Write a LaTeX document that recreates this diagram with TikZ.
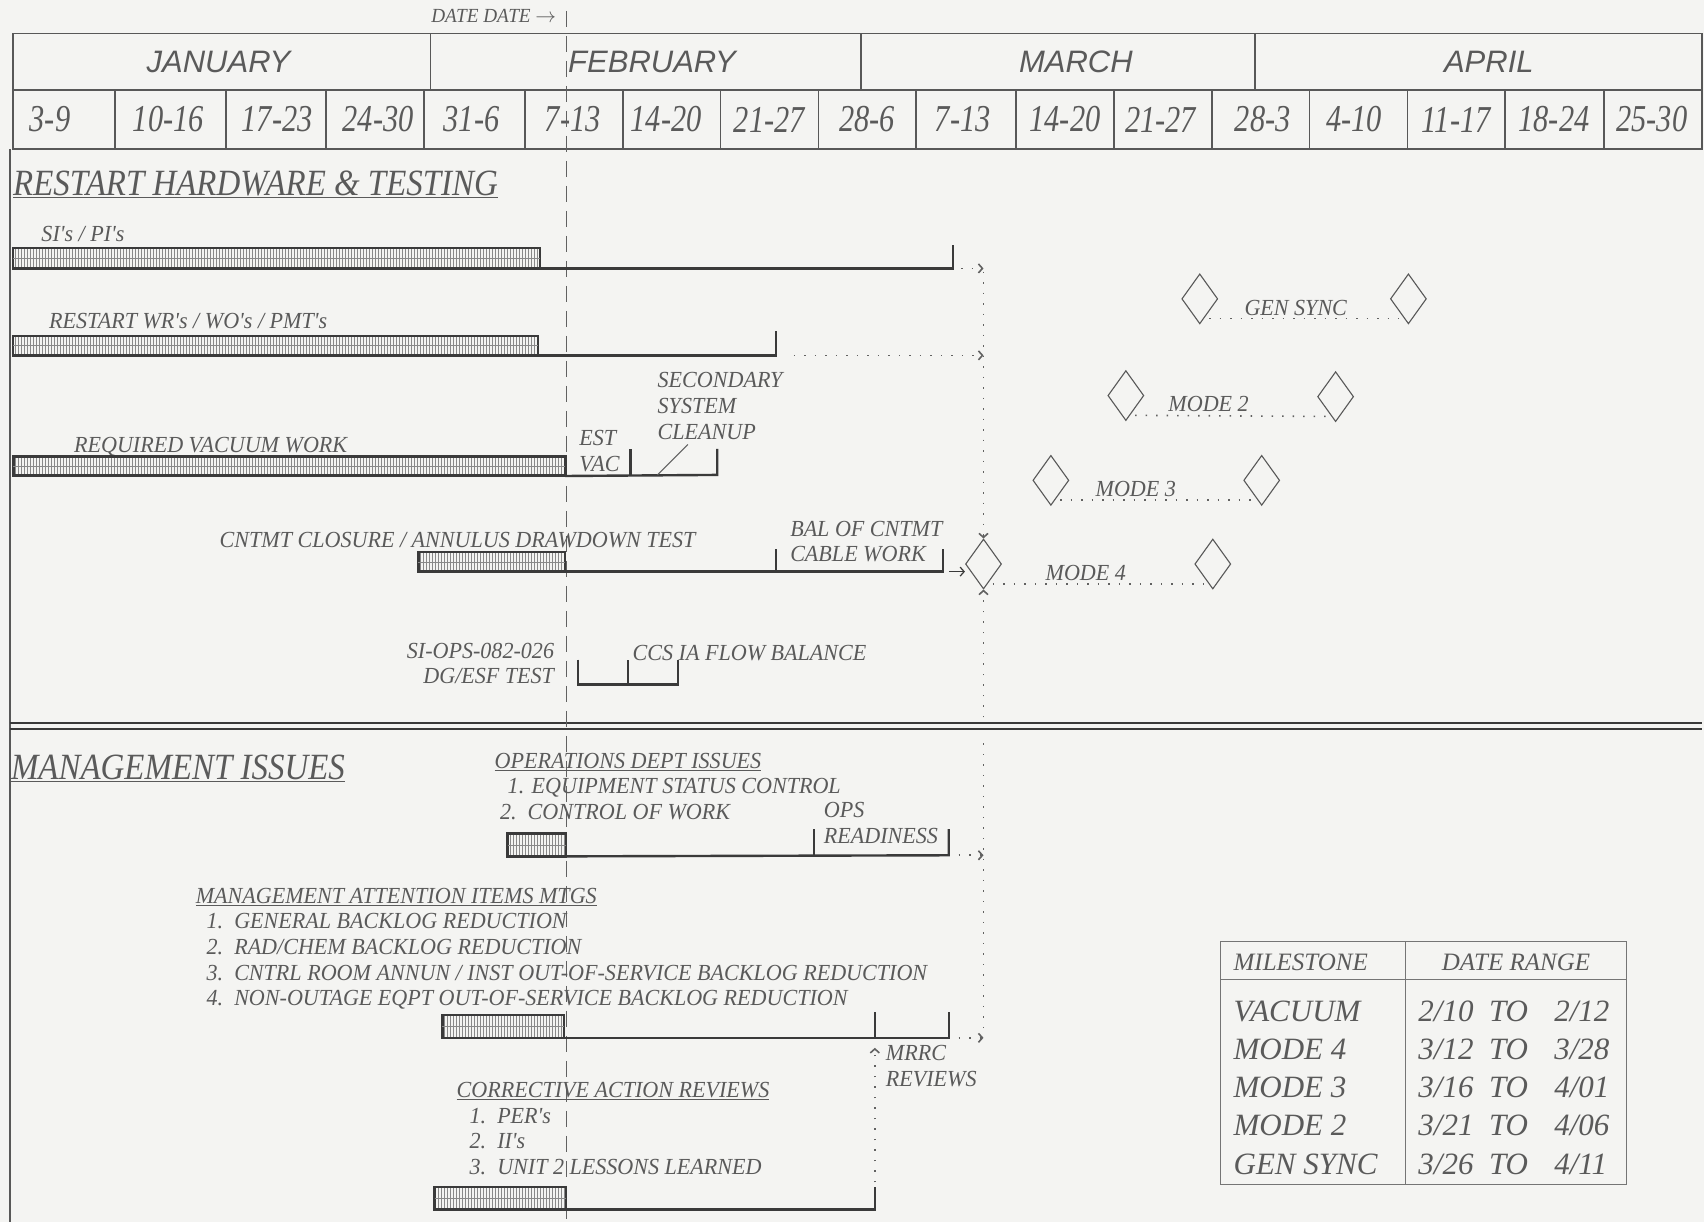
\documentclass[tikz,border=0pt]{standalone}
\usepackage{fontspec}
\setmainfont{Liberation Serif}
\newfontfamily\condit[FakeStretch=0.8]{Liberation Serif}
\newfontfamily\lblfont[FakeStretch=0.96]{Liberation Serif}
\newfontfamily\titlefont[FakeStretch=0.89]{Liberation Serif}
\newfontfamily\monthfont{Liberation Sans}
\usetikzlibrary{positioning,arrows.meta,calc,patterns,shapes.geometric}
\definecolor{paper}{HTML}{F4F4F2}
\definecolor{ink}{HTML}{3A3A3A}
\definecolor{inktxt}{HTML}{5A5A5A}

\tikzset{
  grid/.style={draw=ink!85, line width=1.6pt},
  lbl/.style={font=\lblfont\itshape\fontsize{23}{26}\selectfont, text=inktxt, inner sep=0pt, anchor=base west},
  month/.style={font=\monthfont\itshape\fontsize{31}{34}\selectfont, text=inktxt, inner sep=0pt},
  week/.style={font=\condit\itshape\fontsize{38}{40}\selectfont, text=inktxt, inner sep=0pt},
  title/.style={font=\titlefont\itshape\fontsize{37}{40}\selectfont, text=inktxt, inner sep=0pt, anchor=base west},
  bar/.style={draw=ink, line width=2.4pt, pattern=vertical lines, pattern color=ink!60},
  base/.style={draw=ink, line width=2.4pt},
  dots/.style={draw=ink!80, line width=1.6pt, dash pattern=on 1.5pt off 9pt},
  tip/.style={-{Straight Barb[length=4pt,width=9pt]}},
  mstone/.style={diamond, draw=ink!85, line width=1.1pt, minimum width=36pt, minimum height=50pt, inner sep=0pt},
  mlbl/.style={font=\lblfont\itshape\fontsize{23}{25}\selectfont, text=inktxt, inner sep=0pt, anchor=base west},
  tbl/.style={font=\itshape\fontsize{31}{34}\selectfont, text=inktxt, inner sep=0pt, anchor=base west}
}

\begin{document}
\begin{tikzpicture}[x=1.0867pt, y=-1.0867pt]
\fill[paper] (0,0) rectangle (1568,1124);
\useasboundingbox (0,0) rectangle (1568,1124);

% calendar header
\draw[grid] (12,31) rectangle (1566,137);
\draw[grid] (12,83) -- (1566,83);
\foreach \x in {396,792,1155} \draw[grid] (\x,31) -- (\x,83);
\foreach \x in {106,208,300,390,483,573,663,753,843,935,1025,1115,1205,1295,1385,1476}
  \draw[grid] (\x,83) -- (\x,137);
\foreach \x/\m in {201/JANUARY,600/FEBRUARY,990/MARCH,1370/APRIL}
  \node[month] (mon-\m) at (\x,57) {\m};
\foreach \x/\w [count=\i] in {46/3-9,155/10-16,255/17-23,348/24-30,434/31-6,527/7-13,613/14-20,708/21-27,798/28-6,886/7-13,980/14-20,1068/21-27,1162/28-3,1246/4-10,1340/11-17,1430/18-24,1520/25-30}
  \node[week] (wk\i) at (\x,110) {\w};

% body frame
\draw[grid] (9,137) -- (9,1124);
\draw[ink, line width=1.8pt] (9,665) -- (1566,665);
\draw[ink, line width=1.8pt] (9,671) -- (1566,671);

% date line
\node[lbl, anchor=base east, font=\lblfont\itshape\fontsize{20}{22}\selectfont] (datedate) at (512,21) {DATE DATE $\rightarrow$};
\draw[ink!80, line width=1.3pt, dash pattern=on 16pt off 9pt] (521,10) -- (521,1122);
\coordinate (vl) at (905,0);

% restart hardware & testing
\node[title] (hw) at (12,180) {\underline{RESTART HARDWARE \& TESTING}};

\node[lbl] (sipi) at (38,222) {SI's / PI's};
\draw[bar] (12,228) rectangle (497,247) coordinate (siE);
\draw[ink!60, line width=0.6pt] (12,237.5) -- (497,237.5);
\coordinate (siT) at (877,247);
\draw[base] (siE) -- (siT) -- ++(0,-22);
\draw[dots, tip] ([xshift=8pt]siT) -- (siT -| vl);

\node[lbl] (wrwo) at (45,302) {RESTART WR's / WO's / PMT's};
\draw[bar] (12,309) rectangle (495,327) coordinate (wrE);
\draw[ink!60, line width=0.6pt] (12,318) -- (495,318);
\coordinate (wrT) at (714,327);
\draw[base] (wrE) -- (wrT) -- ++(0,-22);
\draw[dots, tip] ([xshift=18pt]wrT) -- (wrT -| vl);

\node[lbl] (vacw) at (68,416) {REQUIRED VACUUM WORK};
\draw[bar, line width=3pt] (12,420) rectangle (520,438) coordinate (vaE);
\draw[ink!60, line width=0.6pt] (12,429) -- (520,429);
\coordinate (vaM) at (580,437);
\coordinate (vaT) at (660,437);
\draw[base] (vaE) -- (vaT) -- ++(0,-24);
\draw[base] (vaM) -- ++(0,-24);
\node[lbl] (estvac) at (533,410) {EST};
\node[lbl] (estvac2) at (533,434) {VAC};
\node[lbl, align=left, anchor=north west] (secsys) at (605,342) {SECONDARY\\SYSTEM\\CLEANUP};
\draw[ink!80, line width=1pt] (605,437) -- (633,409);

\node[lbl] (cntmt) at (202,504) {CNTMT CLOSURE / ANNULUS DRAWDOWN TEST};
\draw[bar] (385,508) rectangle (520,526) coordinate (cnE);
\draw[ink!60, line width=0.6pt] (385,517) -- (520,517);
\coordinate (cnM) at (714,526);
\coordinate (cnT) at (868,526);
\draw[base] (cnE) -- (cnT) -- ++(0,-21);
\draw[base] (cnM) -- ++(0,-21);
\node[lbl] (balc) at (727,494) {BAL OF CNTMT};
\node[lbl] (balc2) at (727,517) {CABLE WORK};

\node[lbl, anchor=base east] (dgesf) at (510,606) {SI-OPS-082-026};
\node[lbl, anchor=base east] (dgesf2) at (510,629) {DG/ESF TEST};
\coordinate (dgA) at (532,630);
\coordinate (dgB) at (578,630);
\coordinate (dgC) at (624,630);
\draw[base] (dgA) ++(0,-23) -- (dgA) -- (dgC) -- ++(0,-23);
\draw[base] (dgB) -- ++(0,-23);
\node[lbl] (ccsia) at (582,608) {CCS IA FLOW BALANCE};

% milestones
\node[mstone] (gs1) at (1104,275) {};
\node[mstone] (gs2) at (1296,275) {};
\node[mstone] (m21) at (1036,364) {};
\node[mstone] (m22) at (1229,365) {};
\node[mstone] (m31) at (967,442) {};
\node[mstone] (m32) at (1161,442) {};
\node[mstone] (m41) at (905,519) {};
\node[mstone] (m42) at (1116,519) {};
\foreach \a/\b/\t/\dx in {gs1/gs2/GEN SYNC/41,m21/m22/MODE 2/39,m31/m32/MODE 3/41,m41/m42/MODE 4/57}{
  \draw[dots] ([shift={(0,-7pt)}]\a.south east) -- ([shift={(0,-7pt)}]\b.south west);
  \node[mlbl] (\a-lbl) at ($(\a.center)+(\dx,15)$) {\t};
}
\draw[dots, tip] (905,250) -- (m41.north);
\draw[dots, tip] (905,660) -- (m41.south);
\draw[ink, line width=1.2pt, tip] ([xshift=6pt]cnT) -- (cnT -| m41.west);

% management issues
\node[title] (mgmt) at (10,717) {\underline{MANAGEMENT ISSUES}};

\node[lbl] (opsd) at (455,707) {\underline{OPERATIONS DEPT ISSUES}};
\node[lbl] (opsd1) at (467,730) {1. EQUIPMENT STATUS CONTROL};
\node[lbl] (opsd2) at (460,754) {2.\ \ CONTROL OF WORK};
\node[lbl] (opsr) at (758,752) {OPS};
\node[lbl] (opsr2) at (758,776) {READINESS};
\draw[bar] (467,767) rectangle (521,788) coordinate (opE);
\draw[ink!60, line width=0.6pt] (467,777.5) -- (521,777.5);
\coordinate (opM) at (749,787);
\coordinate (opT) at (873,787);
\draw[base] (opE) -- (opT) -- ++(0,-24);
\draw[base] (opM) -- ++(0,-24);
\draw[dots, tip] ([xshift=10pt]opT) -- (opT -| vl);
\draw[dots] (905,684) -- (905,945);

\node[lbl] (mai) at (180,831) {\underline{MANAGEMENT ATTENTION ITEMS MTGS}};
\node[lbl] (mai1) at (190,854) {1.\ \ GENERAL BACKLOG REDUCTION};
\node[lbl] (mai2) at (190,878) {2.\ \ RAD/CHEM BACKLOG REDUCTION};
\node[lbl] (mai3) at (190,902) {3.\ \ CNTRL ROOM ANNUN / INST OUT-OF-SERVICE BACKLOG REDUCTION};
\node[lbl] (mai4) at (190,925) {4.\ \ NON-OUTAGE EQPT OUT-OF-SERVICE BACKLOG REDUCTION};
\draw[bar] (407,934) rectangle (519,955) coordinate (maE);
\draw[ink!60, line width=0.6pt] (407,944.5) -- (519,944.5);
\coordinate (maM) at (805,955);
\coordinate (maT) at (873,955);
\draw[base] (maE) -- (maT) -- ++(0,-24);
\draw[base] (maM) -- ++(0,-24);
\draw[dots, tip] ([xshift=10pt]maT) -- (maT -| vl);

\node[lbl] (mrrc) at (815,976) {MRRC};
\node[lbl] (mrrc2) at (815,1000) {REVIEWS};
\draw[dots, tip] (805,1088) -- ([yshift=-10pt]maM);

\node[lbl] (car) at (420,1010) {\underline{CORRECTIVE ACTION REVIEWS}};
\node[lbl] (car1) at (432,1034) {1.\ \ PER's};
\node[lbl] (car2) at (432,1057) {2.\ \ II's};
\node[lbl] (car3) at (432,1081) {3.\ \ UNIT 2 LESSONS LEARNED};
\draw[bar] (400,1092) rectangle (521,1113) coordinate (caE);
\draw[ink!60, line width=0.6pt] (400,1102.5) -- (521,1102.5);
\coordinate (caT) at (805,1113);
\draw[base] (caE) -- (caT) -- ++(0,-21);

% milestone table
\draw[ink!70, line width=1.2pt] (1123,866) rectangle (1497,1090);
\draw[ink!70, line width=1.2pt] (1123,901) -- (1497,901);
\draw[ink!70, line width=1.2pt] (1293,866) -- (1293,1090);
\node[tbl, font=\itshape\fontsize{25}{28}\selectfont] (thm) at (1135,893) {MILESTONE};
\node[tbl, font=\itshape\fontsize{25}{28}\selectfont, anchor=base] (thd) at (1395,893) {DATE RANGE};
\foreach \y/\m/\a/\b [count=\i] in {940/VACUUM/2\slash 10/2\slash 12,975/MODE 4/3\slash 12/3\slash 28,1010/MODE 3/3\slash 16/4\slash 01,1045/MODE 2/3\slash 21/4\slash 06,1081/GEN SYNC/3\slash 26/4\slash 11}{
  \node[tbl] (row\i) at (1135,\y) {\m};
  \node[tbl] (from\i) at (1305,\y) {\a};
  \node[tbl] (to\i) at (1370,\y) {TO};
  \node[tbl] (till\i) at (1430,\y) {\b};
}
\end{tikzpicture}
\end{document}
